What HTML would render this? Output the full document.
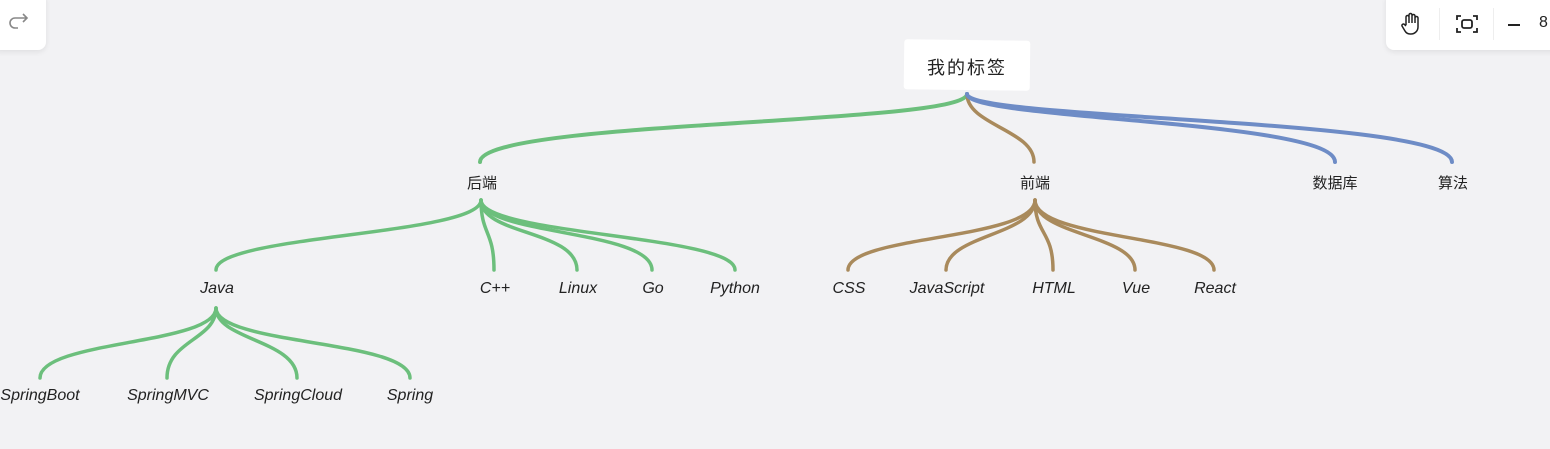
<!DOCTYPE html>
<html><head><meta charset="utf-8"><style>
html,body{margin:0;padding:0;width:1550px;height:449px;background:#f2f2f4;overflow:hidden;position:relative;font-family:"Liberation Sans","Noto Sans CJK SC",sans-serif}
.t{position:absolute;font-size:16px;color:#222;transform:translateX(-50%);white-space:nowrap;font-style:italic}
.c{font-style:normal;font-size:15px}
.box{position:absolute;background:#fff;border-radius:8px;box-shadow:0 2px 6px rgba(0,0,0,.08)}
</style></head><body>
<div class="box" style="left:-8px;top:-8px;width:54px;height:58px"></div>
<svg style="position:absolute;left:8px;top:12px" width="24" height="20"><path d="M19 6 H7 a5 5 0 0 0 0 10 H10 M15 2 L19 6 L15 10" fill="none" stroke="#888" stroke-width="1.6"/></svg>
<div class="box" style="left:1386px;top:-8px;width:180px;height:58px"></div>
<div style="position:absolute;left:1439px;top:8px;width:1px;height:32px;background:#eee"></div>
<div style="position:absolute;left:1493px;top:8px;width:1px;height:32px;background:#eee"></div>
<svg style="position:absolute;left:1400px;top:11px" width="24" height="26"><path d="M6 14 V6 a1.5 1.5 0 0 1 3 0 V12 V4 a1.5 1.5 0 0 1 3 0 V12 V5 a1.5 1.5 0 0 1 3 0 V12 V7 a1.5 1.5 0 0 1 3 0 V16 a7 7 0 0 1 -7 7 h-1 a6 6 0 0 1 -5 -3 L2 15 a1.5 1.5 0 0 1 2.5 -1.5 L6 15" fill="none" stroke="#222" stroke-width="1.5"/></svg>
<svg style="position:absolute;left:1456px;top:14px" width="22" height="20"><path d="M1 6V2h4M17 2h4v4M21 14v4h-4M5 18H1v-4" fill="none" stroke="#222" stroke-width="1.8"/><rect x="6" y="6" width="10" height="8" rx="2" fill="none" stroke="#222" stroke-width="1.8"/></svg>
<div style="position:absolute;left:1508px;top:24px;width:12px;height:1.5px;background:#222"></div>
<div style="position:absolute;left:1539px;top:14px;font-size:16px;color:#222">8</div>

<svg style="position:absolute;left:0;top:0" width="1550" height="449" fill="none" stroke-linecap="round">
<g stroke="#6cbf7c" stroke-width="4">
<path d="M967 94 C967 125,480 120,480 162"/>
</g>
<g stroke="#a98a5c" stroke-width="3.5"><path d="M967 94 C967 125,1034 130,1034 162"/></g>
<g stroke="#6e8cc6" stroke-width="4"><path d="M967 94 C967 120,1335 120,1335 162"/><path d="M967 94 C967 120,1452 118,1452 162"/></g>
<g stroke="#6cbf7c" stroke-width="3.5">
<path d="M481 200 C481 235,216 235,216 270"/>
<path d="M481 200 C481 235,494 230,494 270"/>
<path d="M481 200 C481 235,577 230,577 270"/>
<path d="M481 200 C481 235,652 230,652 270"/>
<path d="M481 200 C481 235,735 235,735 270"/>
<path d="M216 308 C216 345,40 340,40 378"/>
<path d="M216 308 C216 340,167 340,167 378"/>
<path d="M216 308 C216 340,297 340,297 378"/>
<path d="M216 308 C216 345,410 340,410 378"/>
</g>
<g stroke="#a98a5c" stroke-width="3.5">
<path d="M1035 200 C1035 240,848 235,848 270"/>
<path d="M1035 200 C1035 235,946 235,946 270"/>
<path d="M1035 200 C1035 235,1053 230,1053 270"/>
<path d="M1035 200 C1035 235,1135 235,1135 270"/>
<path d="M1035 200 C1035 240,1214 235,1214 270"/>
</g>
</svg>

<div style="position:absolute;left:904px;top:40px;width:126px;height:50px;background:#fff;border-radius:3px;transform:rotate(0.7deg)"></div>
<div class="t c" style="left:967px;top:54px;font-size:18px;letter-spacing:2px">我的标签</div>
<div class="t c" style="left:482px;top:172px">后端</div>
<div class="t c" style="left:1035px;top:172px">前端</div>
<div class="t c" style="left:1335px;top:172px">数据库</div>
<div class="t c" style="left:1453px;top:172px">算法</div>
<div class="t" style="left:217px;top:280px">Java</div>
<div class="t" style="left:495px;top:280px">C++</div>
<div class="t" style="left:578px;top:280px">Linux</div>
<div class="t" style="left:653px;top:280px">Go</div>
<div class="t" style="left:735px;top:280px">Python</div>
<div class="t" style="left:849px;top:280px">CSS</div>
<div class="t" style="left:947px;top:280px">JavaScript</div>
<div class="t" style="left:1054px;top:280px">HTML</div>
<div class="t" style="left:1136px;top:280px">Vue</div>
<div class="t" style="left:1215px;top:280px">React</div>
<div class="t" style="left:40px;top:387px">SpringBoot</div>
<div class="t" style="left:168px;top:387px">SpringMVC</div>
<div class="t" style="left:298px;top:387px">SpringCloud</div>
<div class="t" style="left:410px;top:387px">Spring</div>
</body></html>
